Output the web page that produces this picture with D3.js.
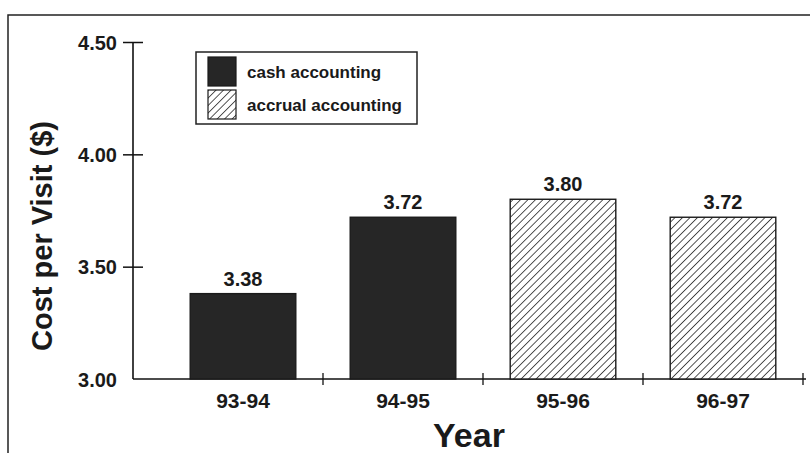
<!DOCTYPE html>
<html>
<head>
<meta charset="utf-8">
<script src="https://cdn.jsdelivr.net/npm/d3@7"></script>
<style>
  body { margin: 0; background: #fff; }
  text { font-family: "Liberation Sans", Arial, Helvetica, sans-serif; font-weight: bold; fill: #1a1a1a; }
</style>
</head>
<body>
<div id="chart"></div>
<script>
const width = 810, height = 453;

// data
const years = ["93-94", "94-95", "95-96", "96-97"];
const costs = [3.38, 3.72, 3.80, 3.72];
const methods = ["cash", "cash", "accrual", "accrual"];
const yTicks = [3.00, 3.50, 4.00, 4.50];
const legendLabels = ["cash accounting", "accrual accounting"];

const svg = d3.select("#chart").append("svg").attr("width", width).attr("height", height);

// diagonal hatch for accrual bars
const defs = svg.append("defs");
const hatch = defs.append("pattern")
    .attr("id", "hatch")
    .attr("patternUnits", "userSpaceOnUse")
    .attr("width", 5.3)
    .attr("height", 5.3)
    .attr("patternTransform", "rotate(45)");
hatch.append("rect").attr("width", 5.3).attr("height", 5.3).attr("fill", "#fff");
hatch.append("line")
    .attr("x1", 0).attr("y1", 0).attr("x2", 0).attr("y2", 5.3)
    .attr("stroke", "#1e1e1e").attr("stroke-width", 1.5);

const fillFor = m => m === "cash" ? "#262626" : "url(#hatch)";

// outer frame (runs off the right and bottom edge like the scan)
svg.append("rect")
    .attr("x", 8).attr("y", 15)
    .attr("width", 820).attr("height", 460)
    .attr("fill", "none").attr("stroke", "#222").attr("stroke-width", 1.5);

const x = d3.scaleBand().domain(years).range([163, 803]).paddingInner(0.34).paddingOuter(0.17);
const y = d3.scaleLinear().domain([3, 4.5]).range([379, 42]);
const axisLeftX = 133, axisRightX = 806;

// y axis
const yAxis = svg.append("g")
    .attr("transform", `translate(${axisLeftX},0)`)
    .call(d3.axisLeft(y).tickValues(yTicks).tickFormat(d3.format(".2f")).tickSize(10).tickPadding(6));
yAxis.select(".domain").attr("d", `M0,${y(3)}V${y(4.5)}`).attr("stroke", "#111").attr("stroke-width", 1.6);
yAxis.selectAll(".tick line").attr("x2", d => d === 3 ? 0 : -10).attr("x1", d => d === 3 ? 0 : 10)
    .attr("stroke", "#111").attr("stroke-width", 1.5);
yAxis.selectAll(".tick text").style("font-size", "20px").attr("fill", "#1a1a1a").attr("dy", "0.35em");

// x axis line + ticks at the band edges
svg.append("line")
    .attr("x1", axisLeftX).attr("x2", axisRightX)
    .attr("y1", y(3)).attr("y2", y(3))
    .attr("stroke", "#111").attr("stroke-width", 1.6);

const edge = d => x(d) + x.bandwidth() + x.step() * x.paddingInner() / 2;
svg.selectAll(".xtick").data(years).enter().append("line")
    .attr("class", "xtick")
    .attr("x1", edge).attr("x2", edge)
    .attr("y1", y(3) - 6).attr("y2", y(3) + 6)
    .attr("stroke", "#111").attr("stroke-width", 1.3);

svg.selectAll(".xlabel").data(years).enter().append("text")
    .attr("class", "xlabel")
    .attr("x", d => x(d) + x.bandwidth() / 2)
    .attr("y", 408)
    .attr("text-anchor", "middle")
    .style("font-size", "21px")
    .text(d => d);

// bars
svg.selectAll(".bar").data(years).enter().append("rect")
    .attr("class", "bar")
    .attr("x", d => x(d))
    .attr("width", x.bandwidth())
    .attr("y", (d, i) => y(costs[i]))
    .attr("height", (d, i) => y(3) - y(costs[i]))
    .attr("fill", (d, i) => fillFor(methods[i]))
    .attr("stroke", "#1a1a1a")
    .attr("stroke-width", 1.4);

svg.selectAll(".value").data(years).enter().append("text")
    .attr("class", "value")
    .attr("x", d => x(d) + x.bandwidth() / 2)
    .attr("y", (d, i) => y(costs[i]) - 8)
    .attr("text-anchor", "middle")
    .style("font-size", "20px")
    .text((d, i) => costs[i].toFixed(2));

// axis titles
svg.append("text")
    .attr("transform", "translate(52,236) rotate(-90)")
    .attr("text-anchor", "middle")
    .style("font-size", "29px")
    .text("Cost per Visit ($)");

svg.append("text")
    .attr("x", 469).attr("y", 447)
    .attr("text-anchor", "middle")
    .style("font-size", "34px")
    .text("Year");

// legend
const legend = svg.append("g").attr("transform", "translate(196,52)");
legend.append("rect")
    .attr("width", 221).attr("height", 72)
    .attr("fill", "#fff").attr("stroke", "#222").attr("stroke-width", 1.5);

const legendRows = legend.selectAll(".lrow").data(legendLabels).enter().append("g")
    .attr("class", "lrow")
    .attr("transform", (d, i) => `translate(12,${5 + i * 33})`);
legendRows.append("rect")
    .attr("width", 28).attr("height", 29)
    .attr("fill", (d, i) => fillFor(i === 0 ? "cash" : "accrual"))
    .attr("stroke", "#1a1a1a").attr("stroke-width", 1.2);
legendRows.append("text")
    .attr("x", 39).attr("y", 21)
    .style("font-size", "17px")
    .text(d => d);
</script>
</body>
</html>
